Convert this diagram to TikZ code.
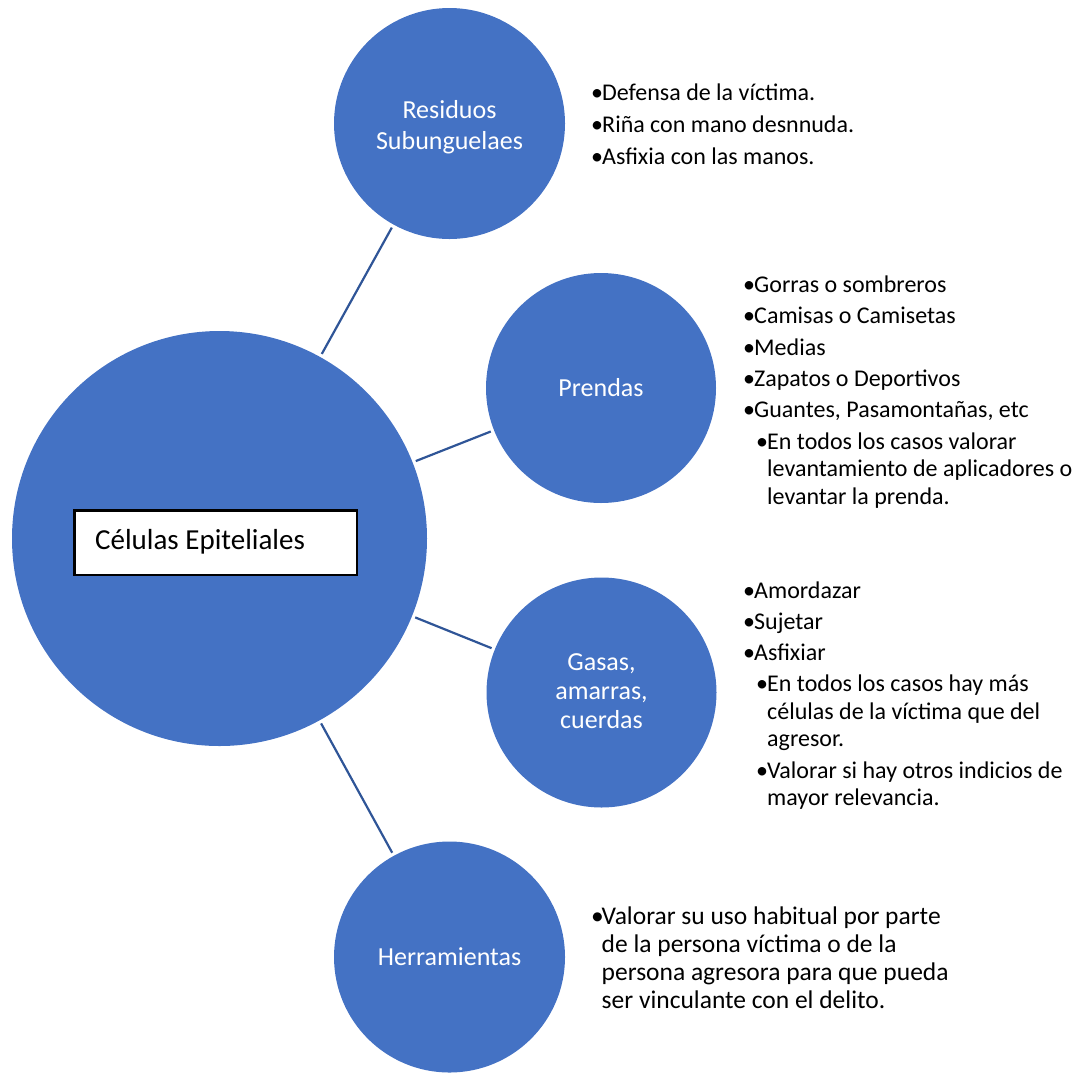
\documentclass[tikz,border=0pt]{standalone}
\usepackage{fontspec}
\setmainfont{Carlito}
\definecolor{cblue}{HTML}{4472C4}
\definecolor{lblue}{HTML}{2F5597}
\newcommand\bul{\makebox[11pt][l]{•}}
\begin{document}
\begin{tikzpicture}[x=1pt,y=-1pt,
  hub/.style={circle,fill=cblue,draw=none,inner sep=0pt,outer sep=0pt,minimum size=#1},
  lab/.style={anchor=base,text=white,inner sep=0pt,font=\fontsize{26}{30.5}\selectfont},
  conn/.style={draw=lblue,line width=2.2pt,shorten <=3.5pt,shorten >=3.5pt},
  blist/.style={anchor=base west,inner sep=0pt,font=\fontsize{24}{27.5}\selectfont}]
\useasboundingbox (0,0) rectangle (1081,1072);
% circles
\node[hub=415pt] (cel) at (219.5,538.5) {};
\node[hub=231pt] (res) at (449.5,123.5) {};
\node[hub=230pt] (pre) at (601,388) {};
\node[hub=230pt] (gas) at (601.5,692.5) {};
\node[hub=231pt] (her) at (449.5,957) {};
% connectors
\draw[conn] (cel) -- (res);
\draw[conn] (cel) -- (pre);
\draw[conn] (cel) -- (gas);
\draw[conn] (cel) -- (her);
% central box
\node[draw=black,line width=2.5pt,fill=white,minimum width=282.5pt,minimum height=64.5pt,inner sep=0pt] (box) at (215.5,542.5) {};
\node[anchor=base west,inner sep=0pt,font=\fontsize{29}{35}\selectfont] (celT) at (95,549) {Células Epiteliales};
% circle labels
\node[lab] (resT) at (449.5,118.5) {\begin{tabular}[t]{@{}c@{}}Residuos\\Subunguelaes\end{tabular}};
\node[lab] (preT) at (601,396) {Prendas};
\node[lab,font=\fontsize{26}{29}\selectfont] (gasT) at (601.5,670) {\begin{tabular}[t]{@{}c@{}}Gasas,\\amarras,\\cuerdas\end{tabular}};
\node[lab] (herT) at (449.5,965) {Herramientas};
% bullet lists
\node[blist] (resL) at (591,100) {\begin{tabular}[t]{@{}l@{}}
\bul Defensa de la víctima.\\[4.5pt]
\bul Riña con mano desnnuda.\\[4.5pt]
\bul Asfixia con las manos.
\end{tabular}};
\node[blist] (preL) at (743,292.5) {\begin{tabular}[t]{@{}l@{}}
\bul Gorras o sombreros\\[3.8pt]
\bul Camisas o Camisetas\\[3.8pt]
\bul Medias\\[3.8pt]
\bul Zapatos o Deportivos\\[3.8pt]
\bul Guantes, Pasamontañas, etc\\[3.8pt]
\hspace{13pt}\bul En todos los casos valorar\\
\hspace{24pt}levantamiento de aplicadores o\\
\hspace{24pt}levantar la prenda.
\end{tabular}};
\node[blist] (gasL) at (743,598) {\begin{tabular}[t]{@{}l@{}}
\bul Amordazar\\[3.8pt]
\bul Sujetar\\[3.8pt]
\bul Asfixiar\\[3.8pt]
\hspace{13pt}\bul En todos los casos hay más\\
\hspace{24pt}células de la víctima que del\\
\hspace{24pt}agresor.\\[3.8pt]
\hspace{13pt}\bul Valorar si hay otros indicios de\\
\hspace{24pt}mayor relevancia.
\end{tabular}};
\node[blist,font=\fontsize{25.5}{28}\selectfont] (herL) at (591,924) {\begin{tabular}[t]{@{}l@{}}
\makebox[10.5pt][l]{•}Valorar su uso habitual por parte\\
\hspace{10.5pt}de la persona víctima o de la\\
\hspace{10.5pt}persona agresora para que pueda\\
\hspace{10.5pt}ser vinculante con el delito.
\end{tabular}};
\end{tikzpicture}
\end{document}
